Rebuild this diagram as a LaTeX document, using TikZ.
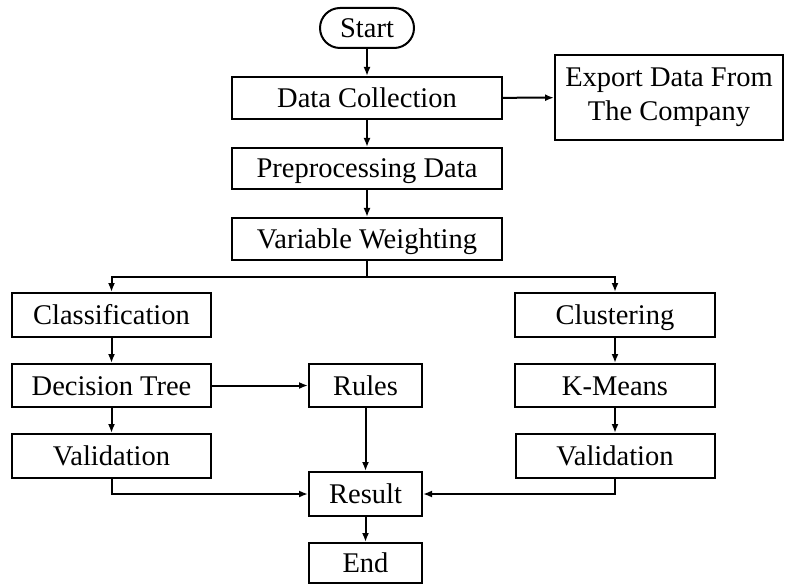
\documentclass[tikz,border=0pt]{standalone}
\usepackage{fontspec}
\setmainfont{Liberation Serif}
\usetikzlibrary{arrows.meta}
\begin{document}
\begin{tikzpicture}[x=1pt,y=-1pt,
  frame/.style={draw, line width=2pt, inner sep=0pt, align=center,
    font=\fontsize{28.5}{34}\selectfont},
  box/.style={frame, text height=19pt, text depth=0pt},
  term/.style={box, rounded corners=20pt},
  arr/.style={line width=2pt, -{Latex[length=9pt,width=7pt]}},
  ln/.style={line width=2pt}]
\useasboundingbox (0,0) rectangle (786,585);

% main column
\node[term, minimum width=94pt, minimum height=40pt] (start) at (367,28) {Start};
\node[box, minimum width=270pt, minimum height=42pt] (dc) at (367,98) {Data Collection};
\node[box, minimum width=270pt, minimum height=41pt] (pre) at (367,168.5) {Preprocessing Data};
\node[box, minimum width=270pt, minimum height=42pt] (vw) at (367,239) {Variable Weighting};
\node[frame, minimum width=228pt, minimum height=85pt] (exp) at (669,97.5) {Export Data From\\The Company};

% classification branch
\node[box, minimum width=199pt, minimum height=44pt] (cls) at (111.5,315) {Classification};
\node[box, minimum width=199pt, minimum height=43pt] (dt) at (111.5,385.5) {Decision Tree};
\node[box, minimum width=199pt, minimum height=44pt] (val1) at (111.5,456) {Validation};
\node[box, minimum width=113pt, minimum height=43pt] (rules) at (365.5,385.5) {Rules};

% clustering branch
\node[box, minimum width=200pt, minimum height=44pt] (clu) at (615,315) {Clustering};
\node[box, minimum width=200pt, minimum height=43pt] (km) at (615,385.5) {K-Means};
\node[box, minimum width=199pt, minimum height=44pt] (val2) at (615,456) {Validation};

% results
\node[box, minimum width=113pt, minimum height=44pt] (result) at (365.5,494) {Result};
\node[box, minimum width=113pt, minimum height=40pt] (end) at (365.5,563) {End};

\coordinate (split) at (367,277);

\draw[arr] (start) -- (dc);
\draw[arr] (dc) -- (exp);
\draw[arr] (dc) -- (pre);
\draw[arr] (pre) -- (vw);
\draw[ln] (vw.south) -- (split);
\draw[arr] (split) -| (cls.north);
\draw[arr] (split) -| (clu.north);
\draw[arr] (cls) -- (dt);
\draw[arr] (dt) -- (val1);
\draw[arr] (dt) -- (rules);
\draw[arr] (clu) -- (km);
\draw[arr] (km) -- (val2);
\draw[arr] (rules) -- (result);
\draw[arr] (val1.south) |- (result.west);
\draw[arr] (val2.south) |- (result.east);
\draw[arr] (result) -- (end);
\end{tikzpicture}
\end{document}
